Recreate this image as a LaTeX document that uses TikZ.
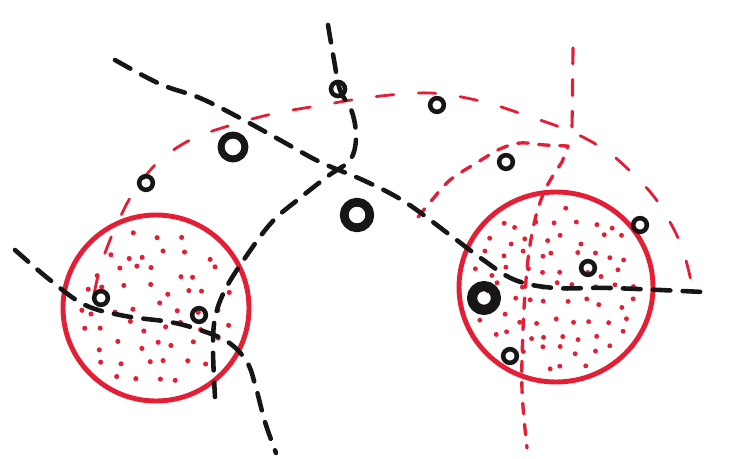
\documentclass[tikz,border=0pt]{standalone}
\begin{document}
\begin{tikzpicture}[x=0.02cm,y=-0.02cm,line cap=round,line join=round]
\definecolor{sketchred}{RGB}{228,30,52}
\definecolor{ink}{RGB}{22,22,22}
\tikzset{
  blackdash/.style={draw=ink,line width=2.6pt,dash pattern=on 10pt off 7pt},
  reddash/.style={draw=sketchred,line width=1.6pt,dash pattern=on 10pt off 14pt},
  redinner/.style={draw=sketchred,line width=1.9pt,dash pattern=on 6pt off 6pt},
  redvert/.style={draw=sketchred,line width=1.8pt,dash pattern=on 9pt off 9pt},
  cellwall/.style={draw=sketchred,line width=2.8pt},
  ringsmall/.style={circle,draw=ink,line width=2.6pt,minimum size=7.8pt,inner sep=0pt},
  ringbig/.style={circle,draw=ink,line width=4.6pt,minimum size=14pt,inner sep=0pt},
  reddot/.style={fill=sketchred}
}
\useasboundingbox (0,0) rectangle (750,459);
% cells
\draw[cellwall] (156,308) ellipse[x radius=93,y radius=93];
\draw[cellwall] (556,287) ellipse[x radius=97,y radius=95];
% stipple (jittered grid)
\pgfmathsetseed{5}
\foreach \gx in {-5,...,5}{
  \foreach \gy in {-5,...,5}{
    \pgfmathsetmacro\px{\gx*20+mod(abs(\gy),2)*10+12*rnd-6}
    \pgfmathsetmacro\py{\gy*18+12*rnd-6}
    \pgfmathparse{((\px/10)^2+(\py/10)^2)<(8.2^2)?1:0}
    \ifnum\pgfmathresult=1
      \fill[reddot,shift={(156,308)}] (\px,\py) circle[radius=1.45pt];
    \fi
  }
}
\foreach \gx in {-6,...,6}{
  \foreach \gy in {-6,...,6}{
    \pgfmathsetmacro\px{\gx*18+mod(abs(\gy),2)*9+11*rnd-5.5}
    \pgfmathsetmacro\py{\gy*16+11*rnd-5.5}
    \pgfmathparse{((\px/10)^2+(\py/10)^2)<(8.5^2)?1:0}
    \ifnum\pgfmathresult=1
      \fill[reddot,shift={(556,287)}] (\px,\py) circle[radius=1.4pt];
    \fi
  }
}
% red arcs
\draw[reddash] plot[smooth,tension=0.6] coordinates {(94,294) (100,268) (108,245) (118,222) (132,195) (157,163) (190,140) (225,127) (272,114) (323,105) (372,97) (430,93) (480,101) (522,114) (572,132) (608,152) (636,177) (655,198) (670,222) (681,245) (688,268) (692,287)};
\draw[redvert] (573,48) -- (572,130);
\draw[redinner] plot[smooth,tension=0.6] coordinates {(418,217) (432,200) (450,180) (478,162) (500,149) (520,143) (545,145) (568,146)}
  -- plot[smooth,tension=0.6] coordinates {(562,162) (547,186) (537,212) (530,245) (526,280) (523,330) (522,390) (527,448)};
% black lines
\draw[blackdash] plot[smooth,tension=0.6] coordinates {(115,60) (160,84) (200,98) (240,118) (280,140) (320,162) (365,181) (405,202) (450,235) (482,259) (515,280) (555,288) (610,288) (703,292)};
\draw[blackdash] plot[smooth,tension=0.6] coordinates {(328,25) (334,60) (340,90) (352,112) (356,138) (350,160) (328,176) (300,198) (272,222) (245,258) (225,290) (215,318) (213,350) (215,397)};
\draw[blackdash] plot[smooth,tension=0.6] coordinates {(15,250) (50,280) (85,305) (125,316) (170,322) (200,330) (228,342) (247,362) (256,388) (265,422) (276,453)};
% particles
\node[ringsmall] (p1) at (101,298) {};
\node[ringsmall] (p2) at (199,315) {};
\node[ringsmall] (p3) at (146,183) {};
\node[ringbig,minimum size=13.6pt,line width=4pt] (p4) at (233,147) {};
\node[ringsmall,minimum size=8pt] (p5) at (338,89) {};
\node[ringbig,minimum size=14.6pt,line width=5pt] (p6) at (357,215) {};
\node[ringsmall] (p7) at (437,105) {};
\node[ringsmall] (p8) at (506,162) {};
\node[ringsmall] (p9) at (640,225) {};
\node[ringsmall] (p10) at (588,268) {};
\node[ringbig,minimum size=13.6pt,line width=5.8pt] (p11) at (484,298) {};
\node[ringsmall] (p12) at (510,356) {};
\end{tikzpicture}
\end{document}
